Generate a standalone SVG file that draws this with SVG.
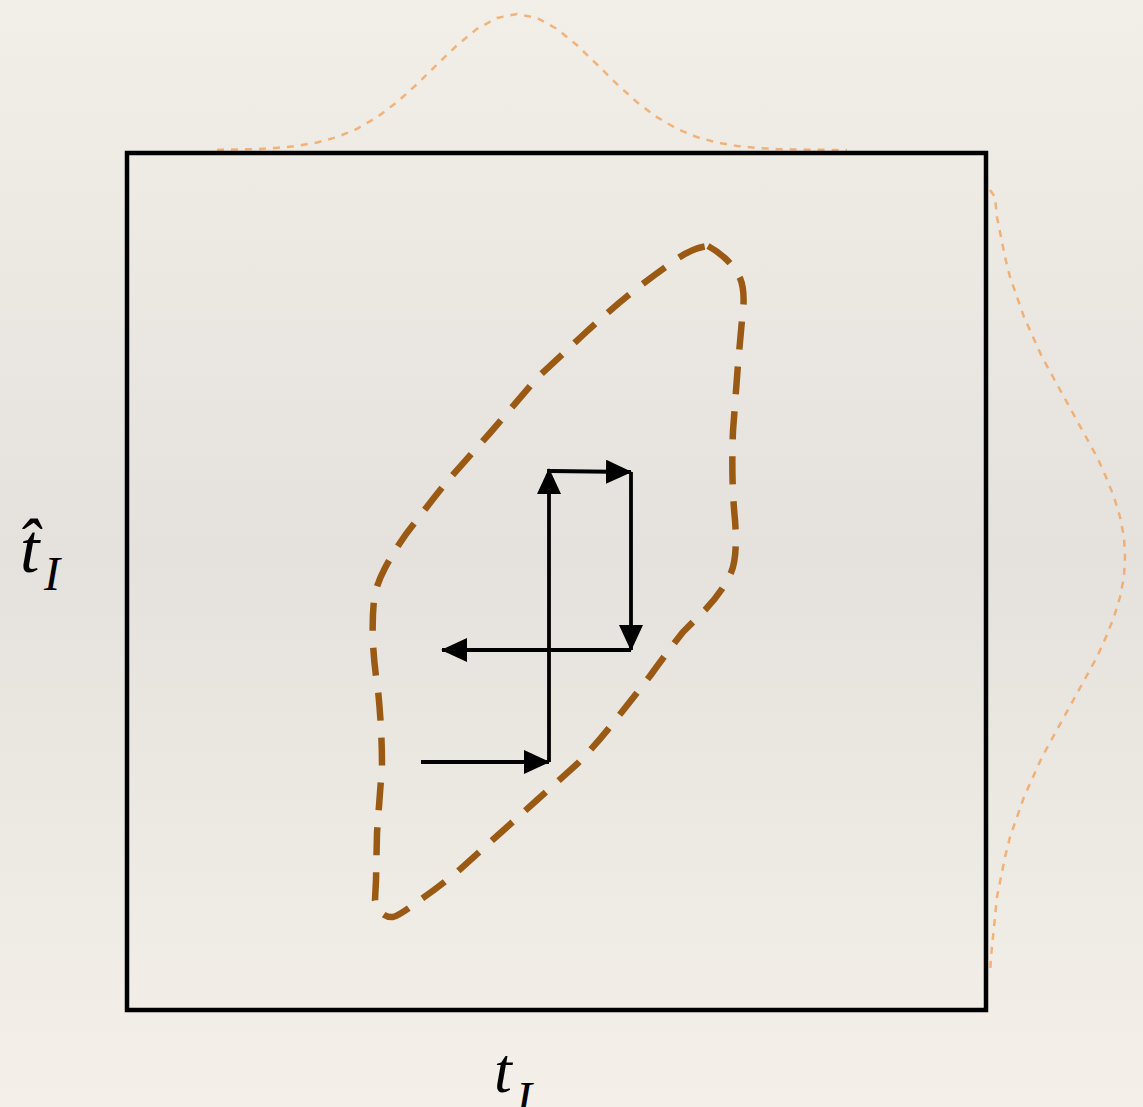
<svg xmlns="http://www.w3.org/2000/svg" width="1143" height="1107" viewBox="0 0 1143 1107">
  <defs>
    <linearGradient id="bg" x1="0" y1="0" x2="0" y2="1">
      <stop offset="0" stop-color="#f2efe9"/>
      <stop offset="0.5" stop-color="#e5e2dd"/>
      <stop offset="1" stop-color="#f4f0e9"/>
    </linearGradient>
    <marker id="ah" viewBox="0 0 26 24" refX="25" refY="12" markerWidth="26" markerHeight="24" markerUnits="userSpaceOnUse" orient="auto">
      <path d="M0 0 L26 12 L0 24 Z" fill="#000"/>
    </marker>
    <style>
      .marg { fill: none; stroke: #f29a4a; stroke-opacity: 0.7; stroke-width: 2.5; stroke-dasharray: 7 7; }
      .contour { fill: none; stroke: #9a5a14; stroke-width: 6.5; stroke-dasharray: 28 17; stroke-linejoin: round; }
      .conn { fill: none; stroke: #000; stroke-width: 3.8; marker-end: url(#ah); }
      .lbl { font-family: "Liberation Serif", "Times New Roman", serif; font-style: italic; fill: #000; }
    </style>
  </defs>
  <rect x="0" y="0" width="1143" height="1107" fill="url(#bg)"/>

  <g id="marginal-top">
    <path class="marg" d="M217 149.8 L237 149.5 L257 149 L277 147.9 L297 145.9 L317 142.5 L337 137.1 L357 128.8 L377 117.2 L397 102.2 L417 84.2 L437 64.5 L457 45.3 L477 28.9 L497 17.9 L517 14 L537 17.9 L557 28.9 L577 45.3 L597 64.5 L617 84.2 L637 102.2 L657 117.2 L677 128.8 L697 137.1 L717 142.5 L737 145.9 L757 147.9 L777 149 L797 149.5 L817 149.8 L847 150"/>
  </g>
  <g id="marginal-right">
    <path class="marg" d="M990 190 L995 197 L997 217 L1001 237 L1005 257 L1010 277 L1017 297 L1024 317 L1033 337 L1042 357 L1053 377 L1064 397 L1075 417 L1086 437 L1097 457 L1106 477 L1114 497 L1120 517 L1124 537 L1125 557 L1124 577 L1120 597 L1114 617 L1106 637 L1097 657 L1086 677 L1075 697 L1064 717 L1053 737 L1042 757 L1033 777 L1024 797 L1017 817 L1010 837 L1005 857 L1001 877 L997 897 L995 917 L993 937 L991 957 L990 975"/>
  </g>

  <g id="frame">
    <rect x="127" y="153" width="859" height="857" fill="none" stroke="#000" stroke-width="4.5"/>
  </g>

  <g id="contour">
    <path class="contour" d="M708 246 Q730 258 740 278 Q746 292 742 320 L738 364 L733 431 Q731 480 735 520 Q738 560 730 575 Q722 592 705 610 L683 632 Q665 655 650 676 Q630 702 617 718 Q597 744 577 764 Q555 784 537 800 L497 836 L457 872 Q435 890 417 902 Q400 915 393 917 Q380 918 375 900 L376 880 L377 833 L382 766 Q382 730 378 690 Q370 640 374 600 Q376 585 385 568 Q400 540 417 520 Q435 496 450 478 L490 433 L537 378 L583 335 Q610 310 630 294 Q650 278 667 266 Q690 248 708 246 Z"/>
  </g>

  <g id="connectors">
    <path class="conn" d="M421 762 L549 762"/>
    <path class="conn" d="M549 762 L549 469"/>
    <path class="conn" d="M550 471 L631 472"/>
    <path class="conn" d="M631 472 L631 650"/>
    <path class="conn" d="M631 650 L442 650"/>
  </g>

  <g id="label-y">
    <text class="lbl" x="20" y="572" font-size="70">t̂</text>
    <text class="lbl" x="44" y="590" font-size="48">I</text>
  </g>
  <g id="label-x">
    <text class="lbl" x="494" y="1092" font-size="64">t</text>
    <text class="lbl" x="516" y="1115" font-size="48">I</text>
  </g>
</svg>
